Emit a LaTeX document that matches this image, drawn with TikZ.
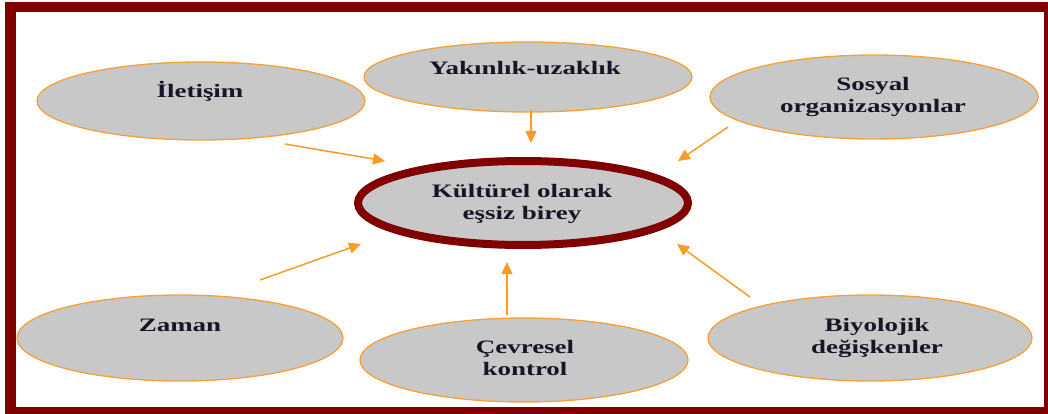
\documentclass[tikz,border=0pt]{standalone}
\usepackage{fontspec}
\newfontfamily\lblfont[FakeStretch=1.42]{Liberation Serif}
\usetikzlibrary{shapes.geometric,arrows.meta}
\definecolor{framered}{RGB}{128,0,0}
\definecolor{bubgray}{RGB}{200,200,200}
\definecolor{bubedge}{RGB}{247,160,53}
\definecolor{arrorange}{RGB}{250,155,40}
\definecolor{txtcol}{RGB}{22,22,38}
\tikzset{
  bub/.style={ellipse, draw=bubedge, line width=1.3pt, fill=bubgray, inner sep=0pt},
  centerbub/.style={ellipse, draw=framered, line width=8pt, fill=bubgray, inner sep=0pt},
  lbl/.style={align=center, text=txtcol, inner sep=0pt, font=\lblfont\bfseries\fontsize{19}{22}\selectfont},
  conn/.style={draw=arrorange, line width=1.5pt, -{Triangle[length=12pt,width=11pt]}}
}
\begin{document}
\begin{tikzpicture}[x=1pt,y=-1pt]
\useasboundingbox (0,0) rectangle (1048,414);
\fill[framered] (5,2) rectangle (1048,414);
\fill[white] (16,12) rectangle (1044,407);

% ellipses
\node[bub, minimum width=328pt, minimum height=78pt] (ilet) at (201,101) {};
\node[lbl] (iletT) at (200,91) {İletişim};
\node[bub, minimum width=328pt, minimum height=70pt] (yak) at (528,77) {};
\node[lbl] (yakT) at (525,68) {Yakınlık-uzaklık};
\node[bub, minimum width=328pt, minimum height=84pt] (sos) at (874,97) {};
\node[lbl] (sosT) at (873,97) {Sosyal\\organizasyonlar};
\node[centerbub, minimum width=330pt, minimum height=84pt] (ctr) at (523,203) {};
\node[lbl] (ctrT) at (522,204) {Kültürel olarak\\eşsiz birey};
\node[bub, minimum width=326pt, minimum height=86pt] (zam) at (180,338) {};
\node[lbl] (zamT) at (180,325) {Zaman};
\node[bub, minimum width=328pt, minimum height=84pt] (cev) at (524,360) {};
\node[lbl] (cevT) at (525,358) {Çevresel\\kontrol};
\node[bub, minimum width=324pt, minimum height=86pt] (biy) at (870,338) {};
\node[lbl] (biyT) at (877,338) {Biyolojik\\değişkenler};

% arrow endpoints
\coordinate (a1s) at (285,144); \coordinate (a1e) at (385,161);
\coordinate (a2s) at (531,110); \coordinate (a2e) at (531,143);
\coordinate (a3s) at (728,127); \coordinate (a3e) at (678,161);
\coordinate (a4s) at (260,280); \coordinate (a4e) at (361,244);
\coordinate (a5s) at (507,315); \coordinate (a5e) at (507,262);
\coordinate (a6s) at (750,297); \coordinate (a6e) at (677,244);

\draw[conn] (a1s) -- (a1e);
\draw[conn] (a2s) -- (a2e);
\draw[conn] (a3s) -- (a3e);
\draw[conn] (a4s) -- (a4e);
\draw[conn] (a5s) -- (a5e);
\draw[conn] (a6s) -- (a6e);
\end{tikzpicture}
\end{document}
